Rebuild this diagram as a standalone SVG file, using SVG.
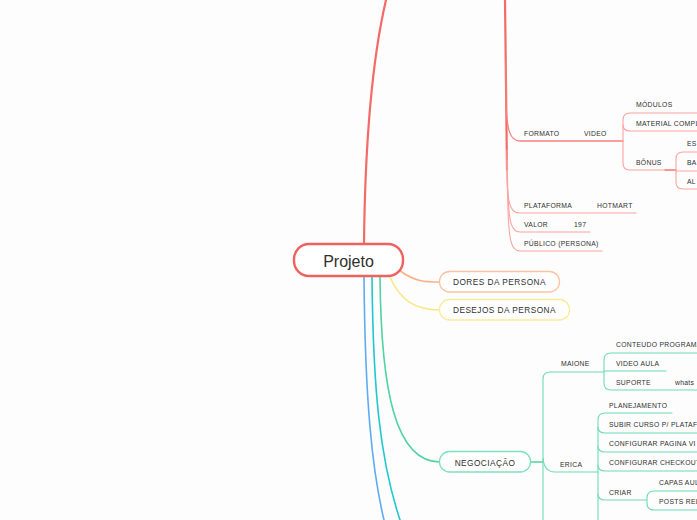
<svg xmlns="http://www.w3.org/2000/svg" width="697" height="520" viewBox="0 0 697 520">
<style>
.bg{fill:#fdfdfd}
text{font-family:"Liberation Sans","Open Sans",sans-serif;fill:#2f2f2f}
.s{font-size:6.8px;letter-spacing:0.3px}
.m{font-size:8.3px;letter-spacing:0.45px}
.l{font-size:16px}
.c{fill:none;stroke-linecap:round;stroke-linejoin:round}
.r{stroke:#f46a66;stroke-width:2.2}
.r1{stroke:#f7817c;stroke-width:1.3}
.rl{stroke:#fba3a0;stroke-width:1.1}
.g{stroke:#4fd3a2;stroke-width:1.6}
.gl{stroke:#6fdcb6;stroke-width:1.1}
</style>
<rect class="bg" x="0" y="0" width="697" height="520"/>
<g id="connectors">
  <!-- root branches -->
  <path class="c r" d="M364,244 C365,150 372,60 386,0"/>
  <path class="c" stroke="#fbb188" stroke-width="1.6" d="M399,270 C415,282 425,282 440,282"/>
  <path class="c" stroke="#fbe884" stroke-width="1.6" d="M390,277 C400,300 415,310 440,310"/>
  <path class="c g" d="M380,276 C381,390 395,462 440,462"/>
  <path class="c" stroke="#1ec8cf" stroke-width="1.6" d="M372,276 C373,390 380,460 400,520"/>
  <path class="c" stroke="#5fabf3" stroke-width="1.6" d="M364,276 C365,400 372,470 384,520"/>
  <!-- top red trunk -->
  <path class="c r" d="M505,0 L507,170"/>
  <path class="c r1" d="M506,60 L506,105 C507,130 510,141 520,141 H623"/>
  <path class="c rl" d="M507,150 L507,180 C508,206 511,213 520,213 H636"/>
  <path class="c rl" d="M507,160 L508,195 C509,224 512,232 520,232 H590"/>
  <path class="c rl" d="M507,170 L508,210 C509,243 512,251 520,251 H602"/>
  <!-- VIDEO bracket -->
  <path class="c rl" d="M700,113 H630 Q623,113 623,120 V163 Q623,170 630,170 H676"/>
  <path class="c rl" d="M623,125 Q623,131 630,131 H700"/>
  <path class="c r1" d="M665,170 H676"/>
  <!-- BONUS bracket -->
  <path class="c rl" d="M700,152 H683 Q676,152 676,159 V182 Q676,189 683,189 H700"/>
  <path class="c rl" d="M676,171 H700"/>
  <!-- NEGOCIACAO -->
  <path class="c g" d="M531,462 H543"/>
  <path class="c gl" d="M604,372 H550 Q543,372 543,379 V525"/>
  <path class="c gl" d="M543,458 Q544,472 555,472 H598"/>
  <!-- MAIONE bracket -->
  <path class="c gl" d="M700,353 H611 Q604,353 604,360 V383 Q604,390 611,390 H700"/>
  <path class="c gl" d="M604,371 H666"/>
  <!-- ERICA bracket -->
  <path class="c gl" d="M672,413 H605 Q598,413 598,420 V525"/>
  <path class="c gl" d="M598,427 Q598,433 605,433 H700"/>
  <path class="c gl" d="M598,446 Q598,452 605,452 H700"/>
  <path class="c gl" d="M598,465 Q598,471 605,471 H700"/>
  <path class="c gl" d="M598,494 Q598,500 605,500 H647"/>
  <!-- CRIAR bracket -->
  <path class="c gl" d="M700,491 H654 Q647,491 647,498 V503 Q647,510 654,510 H700"/>
</g>
<g id="projeto">
  <rect x="294" y="244" width="109" height="32" rx="15" fill="#fff" stroke="#f0605e" stroke-width="2.4"/>
  <text class="l" x="348.5" y="266.5" text-anchor="middle">Projeto</text>
</g>
<g id="dores">
  <rect x="439.5" y="271.5" width="120" height="20.5" rx="10" fill="#fff" stroke="#fcc39f" stroke-width="1.3"/>
  <text class="m" x="499.5" y="285" text-anchor="middle">DORES DA PERSONA</text>
</g>
<g id="desejos">
  <rect x="439.5" y="299.5" width="130" height="20.5" rx="10" fill="#fff" stroke="#fcea98" stroke-width="1.3"/>
  <text class="m" x="504.5" y="313" text-anchor="middle">DESEJOS DA PERSONA</text>
</g>
<g id="negociacao">
  <rect x="439.5" y="451.5" width="91" height="20.5" rx="10" fill="#fff" stroke="#7fe0bd" stroke-width="1.3"/>
  <text class="m" x="485" y="465.5" text-anchor="middle">NEGOCIAÇÃO</text>
</g>
<g id="formato"><text class="s" x="524" y="136">FORMATO</text></g>
<g id="video"><text class="s" x="584" y="136">VIDEO</text></g>
<g id="modulos"><text class="s" x="636" y="107">MÓDULOS</text></g>
<g id="material"><text class="s" x="636" y="126">MATERIAL COMPL</text></g>
<g id="bonus"><text class="s" x="636" y="165">BÔNUS</text></g>
<g id="es"><text class="s" x="687" y="146">ES</text></g>
<g id="ba"><text class="s" x="687" y="165">BA</text></g>
<g id="al"><text class="s" x="687" y="184">AL</text></g>
<g id="plataforma"><text class="s" x="524" y="207.5">PLATAFORMA</text></g>
<g id="hotmart"><text class="s" x="597" y="207.5">HOTMART</text></g>
<g id="valor"><text class="s" x="524" y="226.5">VALOR</text></g>
<g id="v197"><text class="s" x="574" y="226.5">197</text></g>
<g id="publico"><text class="s" x="524" y="245.5">PÚBLICO (PERSONA)</text></g>
<g id="maione"><text class="s" x="561" y="365.5">MAIONE</text></g>
<g id="conteudo"><text class="s" x="616" y="346.5">CONTEUDO PROGRAMA</text></g>
<g id="videoaula"><text class="s" x="616" y="365.5">VIDEO AULA</text></g>
<g id="suporte"><text class="s" x="616" y="384.5">SUPORTE</text></g>
<g id="whats"><text class="s" x="675" y="384.5">whats</text></g>
<g id="erica"><text class="s" x="560" y="466.5">ERICA</text></g>
<g id="planejamento"><text class="s" x="609" y="407.5">PLANEJAMENTO</text></g>
<g id="subir"><text class="s" x="609" y="426.5">SUBIR CURSO P/ PLATAF</text></g>
<g id="pagina"><text class="s" x="609" y="445.5">CONFIGURAR PAGINA VI</text></g>
<g id="checkout"><text class="s" x="609" y="464.5">CONFIGURAR CHECKOUT</text></g>
<g id="criar"><text class="s" x="609" y="495">CRIAR</text></g>
<g id="capas"><text class="s" x="659" y="484.5">CAPAS AUL</text></g>
<g id="posts"><text class="s" x="659" y="503.5">POSTS REL</text></g>
</svg>
